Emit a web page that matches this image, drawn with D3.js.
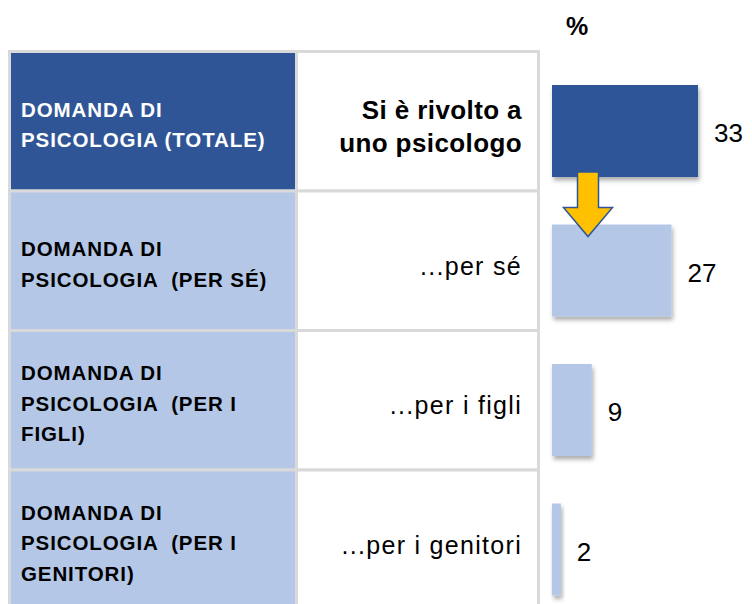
<!DOCTYPE html>
<html>
<head>
<meta charset="utf-8">
<script src="https://cdn.jsdelivr.net/npm/d3@7"></script>
<style>
  body { margin: 0; background: #fff; }
  svg { display: block; font-family: "Liberation Sans", Arial, sans-serif; }
  text { white-space: pre; }
</style>
</head>
<body>
<div class="draw"></div>
<script>
var rowLabels = [
  ['DOMANDA DI', 'PSICOLOGIA (TOTALE)'],
  ['DOMANDA DI', 'PSICOLOGIA  (PER SÉ)'],
  ['DOMANDA DI', 'PSICOLOGIA  (PER I', 'FIGLI)'],
  ['DOMANDA DI', 'PSICOLOGIA  (PER I', 'GENITORI)']
];
var subLabels = [
  ['Si è rivolto a', 'uno psicologo'],
  ['...per sé'],
  ['...per i figli'],
  ['...per i genitori']
];
var values = [33, 27, 9, 2];
var unit = '%';

var size = { w: 752, h: 604 };
var dark = '#2F5597', light = '#B4C7E7', grid = '#D9D9D9', yellow = '#FFC000';

var svg = d3.select('.draw').append('svg')
  .attr('width', size.w).attr('height', size.h)
  .attr('viewBox', [0, 0, size.w, size.h].join(' '));

var defs = svg.append('defs');
defs.append('filter').attr('id', 'shadow')
  .attr('x', '-20%').attr('y', '-20%').attr('width', '160%').attr('height', '160%')
  .append('feDropShadow')
  .attr('dx', 1.5).attr('dy', 3.5).attr('stdDeviation', 2.2)
  .attr('flood-color', '#000').attr('flood-opacity', 0.32);

var idx = d3.range(values.length);

// table rows
var yRow = d3.scaleBand().domain(idx).range([51.5, 609.5]);
var cols = [9.5, 296.5, 538.5];

var rows = svg.selectAll('g.row').data(idx).enter().append('g')
  .attr('class', 'row')
  .attr('transform', function(i) { return 'translate(0,' + yRow(i) + ')'; });

rows.append('rect')
  .attr('x', cols[0]).attr('width', cols[1] - cols[0])
  .attr('height', yRow.bandwidth())
  .attr('fill', function(i) { return i === 0 ? dark : light; })
  .attr('stroke', grid).attr('stroke-width', 3);

rows.append('rect')
  .attr('x', cols[1]).attr('width', cols[2] - cols[1])
  .attr('height', yRow.bandwidth())
  .attr('fill', '#fff')
  .attr('stroke', grid).attr('stroke-width', 3);

var lineH = 30.5;
rows.each(function(i) {
  var g = d3.select(this);
  var mid = yRow.bandwidth() / 2 + 3;
  var lines = rowLabels[i];
  lines.forEach(function(t, k) {
    g.append('text')
      .attr('x', 21)
      .attr('y', mid + (k - (lines.length - 1) / 2) * lineH)
      .attr('dominant-baseline', 'central')
      .attr('font-size', 20.5).attr('font-weight', 'bold')
      .attr('letter-spacing', 0.9)
      .attr('fill', i === 0 ? '#fff' : '#000')
      .text(t);
  });
  var subs = subLabels[i];
  subs.forEach(function(t, k) {
    g.append('text')
      .attr('x', 522)
      .attr('y', mid + 2 + (k - (subs.length - 1) / 2) * 33)
      .attr('dominant-baseline', 'central')
      .attr('text-anchor', 'end')
      .attr('font-size', i === 0 ? 26 : 25)
      .attr('font-weight', i === 0 ? 'bold' : 'normal')
      .attr('letter-spacing', i === 0 ? 0.4 : 1.3)
      .attr('fill', '#000')
      .text(t);
  });
});

// bars
var x = d3.scaleLinear().domain([0, d3.max(values)]).range([552, 698]);
var barH = 92, barOff = 33.5;

svg.selectAll('rect.bar').data(idx).enter().append('rect')
  .attr('class', 'bar')
  .attr('x', x(0))
  .attr('y', function(i) { return yRow(i) + barOff; })
  .attr('width', function(i) { return x(values[i]) - x(0); })
  .attr('height', barH)
  .attr('fill', function(i) { return i === 0 ? dark : light; })
  .attr('filter', 'url(#shadow)');

svg.selectAll('text.val').data(idx).enter().append('text')
  .attr('class', 'val')
  .attr('x', function(i) { return x(values[i]) + 16; })
  .attr('y', function(i) { return yRow(i) + barOff + barH / 2 + 2; })
  .attr('dominant-baseline', 'central')
  .attr('font-size', 26)
  .attr('fill', '#000')
  .text(function(i) { return values[i]; });

svg.append('text')
  .attr('x', 577).attr('y', 26)
  .attr('dominant-baseline', 'central')
  .attr('text-anchor', 'middle')
  .attr('font-size', 25).attr('font-weight', 'bold')
  .text(unit);

// arrow from total to "per sé"
var ax = x(0) + 36;
var y0 = yRow(0) + barOff + barH - 5;
var y1 = yRow(1) + barOff + 12;
var headH = 29, shaftW = 10.5, headW = 24.5;
var arrow = d3.path();
arrow.moveTo(ax - shaftW, y0);
arrow.lineTo(ax + shaftW, y0);
arrow.lineTo(ax + shaftW, y1 - headH);
arrow.lineTo(ax + headW, y1 - headH);
arrow.lineTo(ax, y1);
arrow.lineTo(ax - headW, y1 - headH);
arrow.lineTo(ax - shaftW, y1 - headH);
arrow.closePath();
svg.append('path')
  .attr('d', arrow.toString())
  .attr('fill', yellow)
  .attr('stroke', dark).attr('stroke-width', 1.5)
  .attr('stroke-linejoin', 'miter');
</script>
</body>
</html>
